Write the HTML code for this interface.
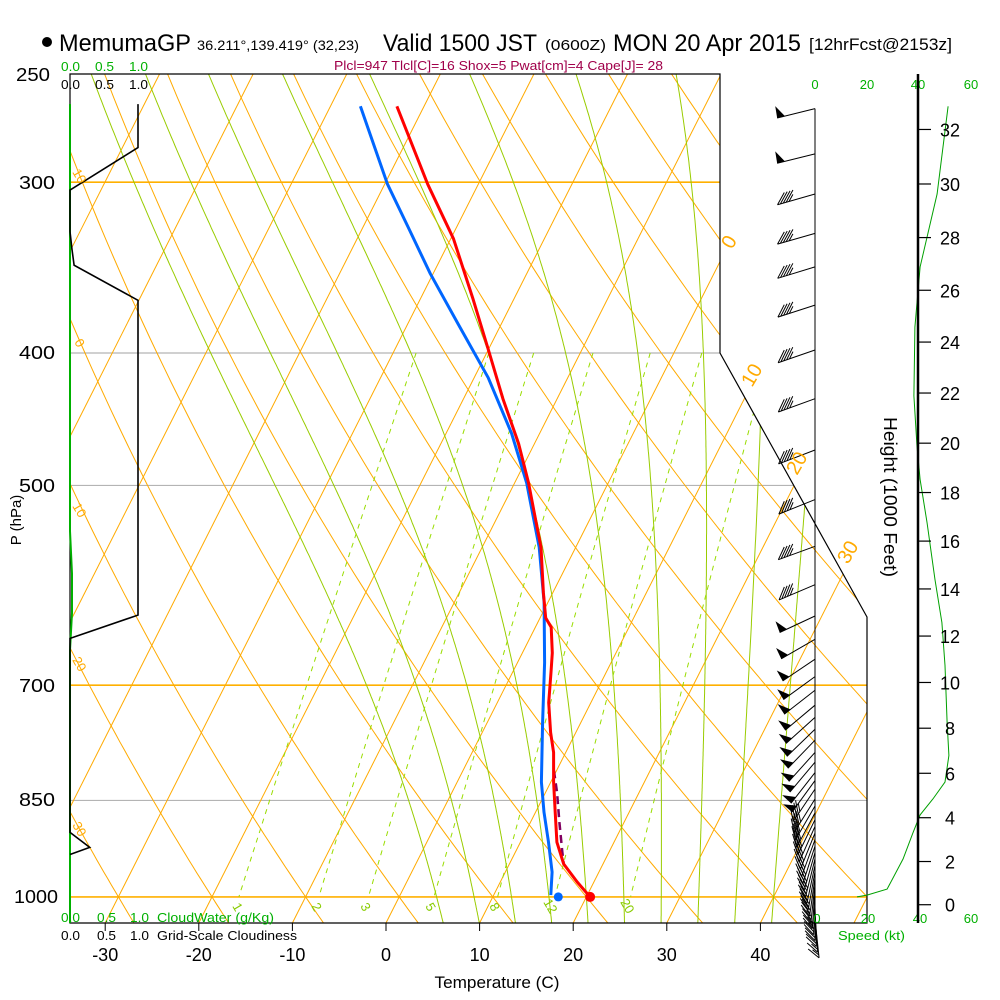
<!DOCTYPE html>
<html><head><meta charset="utf-8"><title>Skew-T MemumaGP</title>
<style>
html,body{margin:0;padding:0;background:#fff;}
svg{display:block;font-family:"Liberation Sans",Arial,sans-serif;}
</style></head>
<body>
<svg id="chart" width="1000" height="1000" viewBox="0 0 1000 1000" xmlns="http://www.w3.org/2000/svg">
<rect width="1000" height="1000" fill="#fff"/>
<defs>
<clipPath id="plotClip"><polygon points="70,74 720,74 720,353 867,617 867,923 70,923"/></clipPath>
</defs>
<g id="grid" clip-path="url(#plotClip)"></g>
<g id="overlay"></g>

<circle cx="47" cy="42" r="5" fill="#000"/>
<text x="59" y="51" font-size="24" textLength="132" lengthAdjust="spacingAndGlyphs">MemumaGP</text>
<text x="197" y="50" font-size="14" textLength="162" lengthAdjust="spacingAndGlyphs">36.211°,139.419° (32,23)</text>
<text x="383" y="51" font-size="24" textLength="154" lengthAdjust="spacingAndGlyphs">Valid 1500 JST</text>
<text x="545" y="50" font-size="15" textLength="61" lengthAdjust="spacingAndGlyphs">(0600Z)</text>
<text x="613" y="51" font-size="24" textLength="188" lengthAdjust="spacingAndGlyphs">MON 20 Apr 2015</text>
<text x="809" y="50" font-size="17" textLength="143" lengthAdjust="spacingAndGlyphs">[12hrFcst@2153z]</text>
<text x="334" y="70" font-size="13" fill="#a0004a" textLength="329" lengthAdjust="spacingAndGlyphs">Plcl=947 Tlcl[C]=16 Shox=5 Pwat[cm]=4 Cape[J]= 28</text>

<g font-size="13" fill="#00b000">
<text x="61" y="71" textLength="19" lengthAdjust="spacingAndGlyphs">0.0</text>
<text x="95" y="71" textLength="19" lengthAdjust="spacingAndGlyphs">0.5</text>
<text x="129" y="71" textLength="19" lengthAdjust="spacingAndGlyphs">1.0</text>
</g>
<g font-size="13" fill="#000">
<text x="61" y="89" textLength="19" lengthAdjust="spacingAndGlyphs">0.0</text>
<text x="95" y="89" textLength="19" lengthAdjust="spacingAndGlyphs">0.5</text>
<text x="129" y="89" textLength="19" lengthAdjust="spacingAndGlyphs">1.0</text>
</g>
<g font-size="13" fill="#00b000" text-anchor="middle">
<text x="815" y="89">0</text><text x="867" y="89">20</text><text x="918" y="89">40</text><text x="971" y="89">60</text>
</g>

<g font-size="18" text-anchor="end">
<text x="50" y="81" textLength="34" lengthAdjust="spacingAndGlyphs">250</text>
<text x="55" y="189" textLength="36" lengthAdjust="spacingAndGlyphs">300</text>
<text x="55" y="359" textLength="36" lengthAdjust="spacingAndGlyphs">400</text>
<text x="55" y="492" textLength="36" lengthAdjust="spacingAndGlyphs">500</text>
<text x="55" y="692" textLength="36" lengthAdjust="spacingAndGlyphs">700</text>
<text x="55" y="806" textLength="36" lengthAdjust="spacingAndGlyphs">850</text>
<text x="58" y="903" textLength="44" lengthAdjust="spacingAndGlyphs">1000</text>
</g>
<text transform="translate(21,520) rotate(-90)" font-size="15" text-anchor="middle">P (hPa)</text>

<g font-size="13" fill="#00b000">
<text x="61" y="922" textLength="19" lengthAdjust="spacingAndGlyphs">0.0</text>
<text x="97" y="922" textLength="19" lengthAdjust="spacingAndGlyphs">0.5</text>
<text x="130" y="922" textLength="19" lengthAdjust="spacingAndGlyphs">1.0</text>
<text x="157" y="922" textLength="117" lengthAdjust="spacingAndGlyphs">CloudWater (g/Kg)</text>
</g>
<g font-size="13" fill="#000">
<text x="61" y="940" textLength="19" lengthAdjust="spacingAndGlyphs">0.0</text>
<text x="97" y="940" textLength="19" lengthAdjust="spacingAndGlyphs">0.5</text>
<text x="130" y="940" textLength="19" lengthAdjust="spacingAndGlyphs">1.0</text>
<text x="157" y="940" textLength="140" lengthAdjust="spacingAndGlyphs">Grid-Scale Cloudiness</text>
</g>
<g font-size="13" fill="#00b000" text-anchor="middle">
<text x="817" y="923">0</text><text x="868" y="923">20</text><text x="920" y="923">40</text><text x="971" y="923">60</text>
</g>
<text x="838" y="940" font-size="13" fill="#00b000" textLength="67" lengthAdjust="spacingAndGlyphs">Speed (kt)</text>
<g id="tticks" font-size="18" text-anchor="middle"></g>
<text x="497" y="988" font-size="17" text-anchor="middle" textLength="125" lengthAdjust="spacingAndGlyphs">Temperature (C)</text>

<line x1="918" y1="74" x2="918" y2="923" stroke="#000" stroke-width="2.5"/>
<g id="hticks" font-size="18" text-anchor="middle"></g>
<text transform="translate(884,497) rotate(90)" font-size="18" text-anchor="middle" textLength="160" lengthAdjust="spacingAndGlyphs">Height (1000 Feet)</text>

<g fill="#ffaa00" font-size="20">
<text transform="translate(732,250) rotate(-60)">0</text>
<text transform="translate(752,388) rotate(-60)">10</text>
<text transform="translate(797,476) rotate(-60)">20</text>
<text transform="translate(848,565) rotate(-60)">30</text>
</g>
<g fill="#ffaa00" font-size="13">
<text transform="translate(72,172) rotate(60)">10</text>
<text transform="translate(74,342) rotate(60)">0</text>
<text transform="translate(72,506) rotate(60)">10</text>
<text transform="translate(72,660) rotate(60)">20</text>
<text transform="translate(72,825) rotate(60)">30</text>
</g>
<g fill="#88cc00" font-size="13">
<text transform="translate(232,906) rotate(60)">1</text>
<text transform="translate(311,906) rotate(60)">2</text>
<text transform="translate(360,906) rotate(60)">3</text>
<text transform="translate(425,906) rotate(60)">5</text>
<text transform="translate(489,906) rotate(60)">8</text>
<text transform="translate(543,902) rotate(60)">12</text>
<text transform="translate(620,902) rotate(60)">20</text>
</g>

<script>
const tempP = [264,301,330,365,397,432,466,498,533,555,599,625,635,663,685,721,758,784,824,867,912,946,975,1000];
const tempT = [-42.9,-35.4,-29.7,-24.4,-20.1,-15.8,-11.7,-8.5,-5.5,-3.7,-1.0,0.6,1.7,3.2,4.1,5.5,7.3,8.7,10.3,12.1,13.9,15.8,18.2,20.4];
const dewP = [264,301,324,350,381,417,458,498,555,609,674,745,824,867,912,959,997];
const dewT = [-46.8,-39.7,-35.1,-30.3,-24.6,-18.5,-13.0,-8.7,-3.9,-0.4,2.9,5.9,9.0,10.9,13.0,15.0,16.1];
const sfcP = 1000;
const sfcT = 20.4;
const sfcTd = 17.0;
const parcelP = [808,838,882,927,946];
const parcelT = [9.7,11.2,13.1,15.0,15.8];
const spdP = [264,306,346,383,430,468,495,532,586,630,677,745,788,824,848,871,897,938,987,997,1000];
const spdV = [51.7,47.4,40.8,38.8,38.4,39.6,40.8,43.5,46.6,49.3,50.5,51.3,52.0,50.5,45.8,40.8,38.1,34.2,28,20.2,16.3];
const cloudP = [263,283,304,326,336,345,366,622,647,897,920,931];
const cloudFrac = [1,1,0,0,0.03,0.06,1,1,0,0,0.29,0];
const cwP = [263,540,580,620,660,1045];
const cwVal = [0,0,0.03,0.03,0,0];
const barbP = [265,286,306,327,346,369,398,432,471,512,554,591,623,648,670,690,706,724,739,754,768,784,797,811,822,834,848,858,868,878,888,898,908,918,928,938,948,958,968,978,988,998,1008,1018,1028,1038];
const barbSpd = [50,50,45,45,45,45,45,45,45,45,45,45,50,50,50,50,50,50,50,50,50,50,50,50,50,45,45,42,40,39,38,37,36,35,34,33,32,30,28,27,25,23,21,19,17,15];
const barbDir = [256,256,254,254,253,252,251,250,249,248,250,247,245,240,236,234,232,230,228,226,224,222,220,218,216,214,212,210,208,206,204,202,200,198,196,194,192,190,188,186,184,182,180,178,176,174];
const isobarP = [300,400,500,700,850,1000];
const isobarOrange = [true,false,false,true,false,true];
const tempTicks = [-30,-20,-10,0,10,20,30,40];
const heightTicks = [0,2,4,6,8,10,12,14,16,18,20,22,24,26,28,30,32];
const mixRatios = [1,2,3,5,8,12,20];
const moistThetaW = [4,8,12,16,20,24,28,32,36,40];

const K = 593.6;
function Y(p){ return 74 + K*Math.log(p/250); }
function X(T,p){ return 386 + 9.36*T + 0.505*(923 - Y(p)); }
function SX(s){ return 815 + s*51.5/20; }
function CX(f){ return 70 + 68*f; }
function hToP(hft){ return 1013.25*Math.pow(1 - 6.8756e-6*hft, 5.2559); }

const NS = "http://www.w3.org/2000/svg";
function mk(tag, attrs, parent){
  const el = document.createElementNS(NS, tag);
  for (const k in attrs) el.setAttribute(k, attrs[k]);
  parent.appendChild(el);
  return el;
}
function pathFrom(pts){ return pts.map((q,i)=>(i?"L":"M")+q[0].toFixed(1)+","+q[1].toFixed(1)).join(""); }

const grid = document.getElementById("grid");
const ov = document.getElementById("overlay");

isobarP.forEach((p,i)=>{
  const el = mk("line",{x1:70,x2:900,y1:Y(p),y2:Y(p),stroke:isobarOrange[i]?"#ffb000":"#b4b4b4","stroke-width":isobarOrange[i]?1.6:1.2},grid);
  
  
});
for (let T=-120; T<=60; T+=10){
  const el = mk("line",{x1:X(T,1045),y1:Y(1045),x2:X(T,250),y2:Y(250),stroke:"#ffaa00","stroke-width":1},grid);
  
  
}
for (let th=-40; th<=200; th+=10){
  const pts=[];
  for (let p=250; p<=1050; p+=10){ const T=(th+273.15)*Math.pow(p/1000,0.2857)-273.15; pts.push([X(T,p),Y(p)]); }
  const el = mk("path",{d:pathFrom(pts),fill:"none",stroke:"#ffaa00","stroke-width":1},grid);
  
  
}
function es(Tc){ return 6.112*Math.exp(17.67*Tc/(Tc+243.5)); }
function rs(Tc,p){ const e=es(Tc); return 0.622*e/(p-e); }
function dTdp(Tk,p){ const r=rs(Tk-273.15,p); return (287*Tk + 2.5e6*r)/(p*(1005 + 2.5e6*2.5e6*r*0.622/(287*Tk*Tk))); }
moistThetaW.forEach(tw=>{
  const up=[]; let T=tw+273.15;
  for (let p=1000; p>=245; p-=2){ up.push([X(T-273.15,p),Y(p)]); T -= 2*dTdp(T,p); }
  const dn=[]; T=tw+273.15;
  for (let p=1000; p<=1050; p+=2){ dn.push([X(T-273.15,p),Y(p)]); T += 2*dTdp(T,p); }
  const pts = dn.reverse().concat(up);
  const el = mk("path",{d:pathFrom(pts),fill:"none",stroke:"#99cc00","stroke-width":1},grid);
  
  
});
mixRatios.forEach(w=>{
  const pts=[];
  for (let p=400; p<=1000; p+=10){ const e=w*p/(622+w); const l=Math.log(e/6.112); const Td=243.5*l/(17.67-l); pts.push([X(Td,p),Y(p)]); }
  const el = mk("path",{d:pathFrom(pts),fill:"none",stroke:"#99dd00","stroke-width":1,"stroke-dasharray":"5,5"},grid);
  
  
});

{
  const el = mk("polygon",{points:"70,74 720,74 720,353 867,617 867,923 70,923",fill:"none",stroke:"#000","stroke-width":1.2},ov);
  
  
}
const tt = document.getElementById("tticks");
tempTicks.forEach(T=>{
  const x=386+9.36*T;
  const l = mk("line",{x1:x,x2:x,y1:923,y2:931,stroke:"#000","stroke-width":1},tt);
  
  
  const t = mk("text",{x:x,y:961},tt);
  t.textContent = String(T);
  
  
});
const ht = document.getElementById("hticks");
heightTicks.forEach(h=>{
  const y=Y(hToP(h*1000));
  const l = mk("line",{x1:918,x2:931,y1:y,y2:y,stroke:"#000","stroke-width":1.2},ht);
  
  
  const t = mk("text",{x:950,y:y+7},ht);
  t.textContent = String(h);
  
  
});

{
  const cw = mk("path",{d:pathFrom(cwP.map((p,i)=>[CX(cwVal[i]),Y(p)])),fill:"none",stroke:"#00b000","stroke-width":2},ov);
  
  
  const cl = mk("path",{d:pathFrom(cloudP.map((p,i)=>[CX(cloudFrac[i]),Y(p)])),fill:"none",stroke:"#000","stroke-width":1.6},ov);
  
  
}
{
  const el = mk("path",{d:pathFrom(spdP.map((p,i)=>[SX(spdV[i]),Y(p)])),fill:"none",stroke:"#00a000","stroke-width":1},ov);
  
  
}
{
  const pa = mk("path",{d:pathFrom(parcelP.map((p,i)=>[X(parcelT[i],p),Y(p)])),fill:"none",stroke:"#800060","stroke-width":2.5,"stroke-dasharray":"8,5"},ov);
  
  
  const dw = mk("path",{d:pathFrom(dewP.map((p,i)=>[X(dewT[i],p),Y(p)])),fill:"none",stroke:"#0066ff","stroke-width":3,"stroke-linejoin":"round"},ov);
  
  
  const tp = mk("path",{d:pathFrom(tempP.map((p,i)=>[X(tempT[i],p),Y(p)])),fill:"none",stroke:"#ff0000","stroke-width":3,"stroke-linejoin":"round"},ov);
  
  
  const d1 = mk("circle",{cx:X(sfcTd,sfcP),cy:Y(sfcP),r:4.5,fill:"#0066ff"},ov);
  
  
  const d2 = mk("circle",{cx:X(sfcT,sfcP),cy:Y(sfcP),r:5,fill:"#ff0000"},ov);
  
  
}
{
  const staff = mk("line",{x1:815,x2:815,y1:Y(barbP[0]),y2:923,stroke:"#000","stroke-width":1},ov);
  
  
  const L=39;
  barbP.forEach((p,i)=>{
    const g = mk("g",{},ov);
    
    
    const a = barbDir[i]*Math.PI/180;
    const ux=Math.sin(a), uy=-Math.cos(a);
    const nx=-uy, ny=ux;
    const x0=815, y0=Y(p), xt=x0+ux*L, yt=y0+uy*L;
    mk("line",{x1:x0,y1:y0,x2:xt,y2:yt,stroke:"#000","stroke-width":1},g);
    let s = Math.round(barbSpd[i]/5)*5;
    let d = 0;
    const fx=nx-ux*1.0, fy=ny-uy*1.0, fl=Math.hypot(fx,fy);
    while (s>=50){
      const bx=xt-ux*d, by=yt-uy*d;
      const ex=bx-ux*8, ey=by-uy*8;
      mk("polygon",{points:`${bx},${by} ${ex},${ey} ${bx+nx*12-ux*1},${by+ny*12-uy*1}`,fill:"#000"},g);
      d+=9; s-=50;
    }
    while (s>=10){
      const bx=xt-ux*d, by=yt-uy*d;
      mk("line",{x1:bx,y1:by,x2:bx+fx/fl*14,y2:by+fy/fl*14,stroke:"#000","stroke-width":1},g);
      d+=3; s-=10;
    }
    if (s>=5){
      const bx=xt-ux*d, by=yt-uy*d;
      mk("line",{x1:bx,y1:by,x2:bx+fx/fl*8,y2:by+fy/fl*8,stroke:"#000","stroke-width":1},g);
    }
  });
}
</script>
</svg>
</body></html>
